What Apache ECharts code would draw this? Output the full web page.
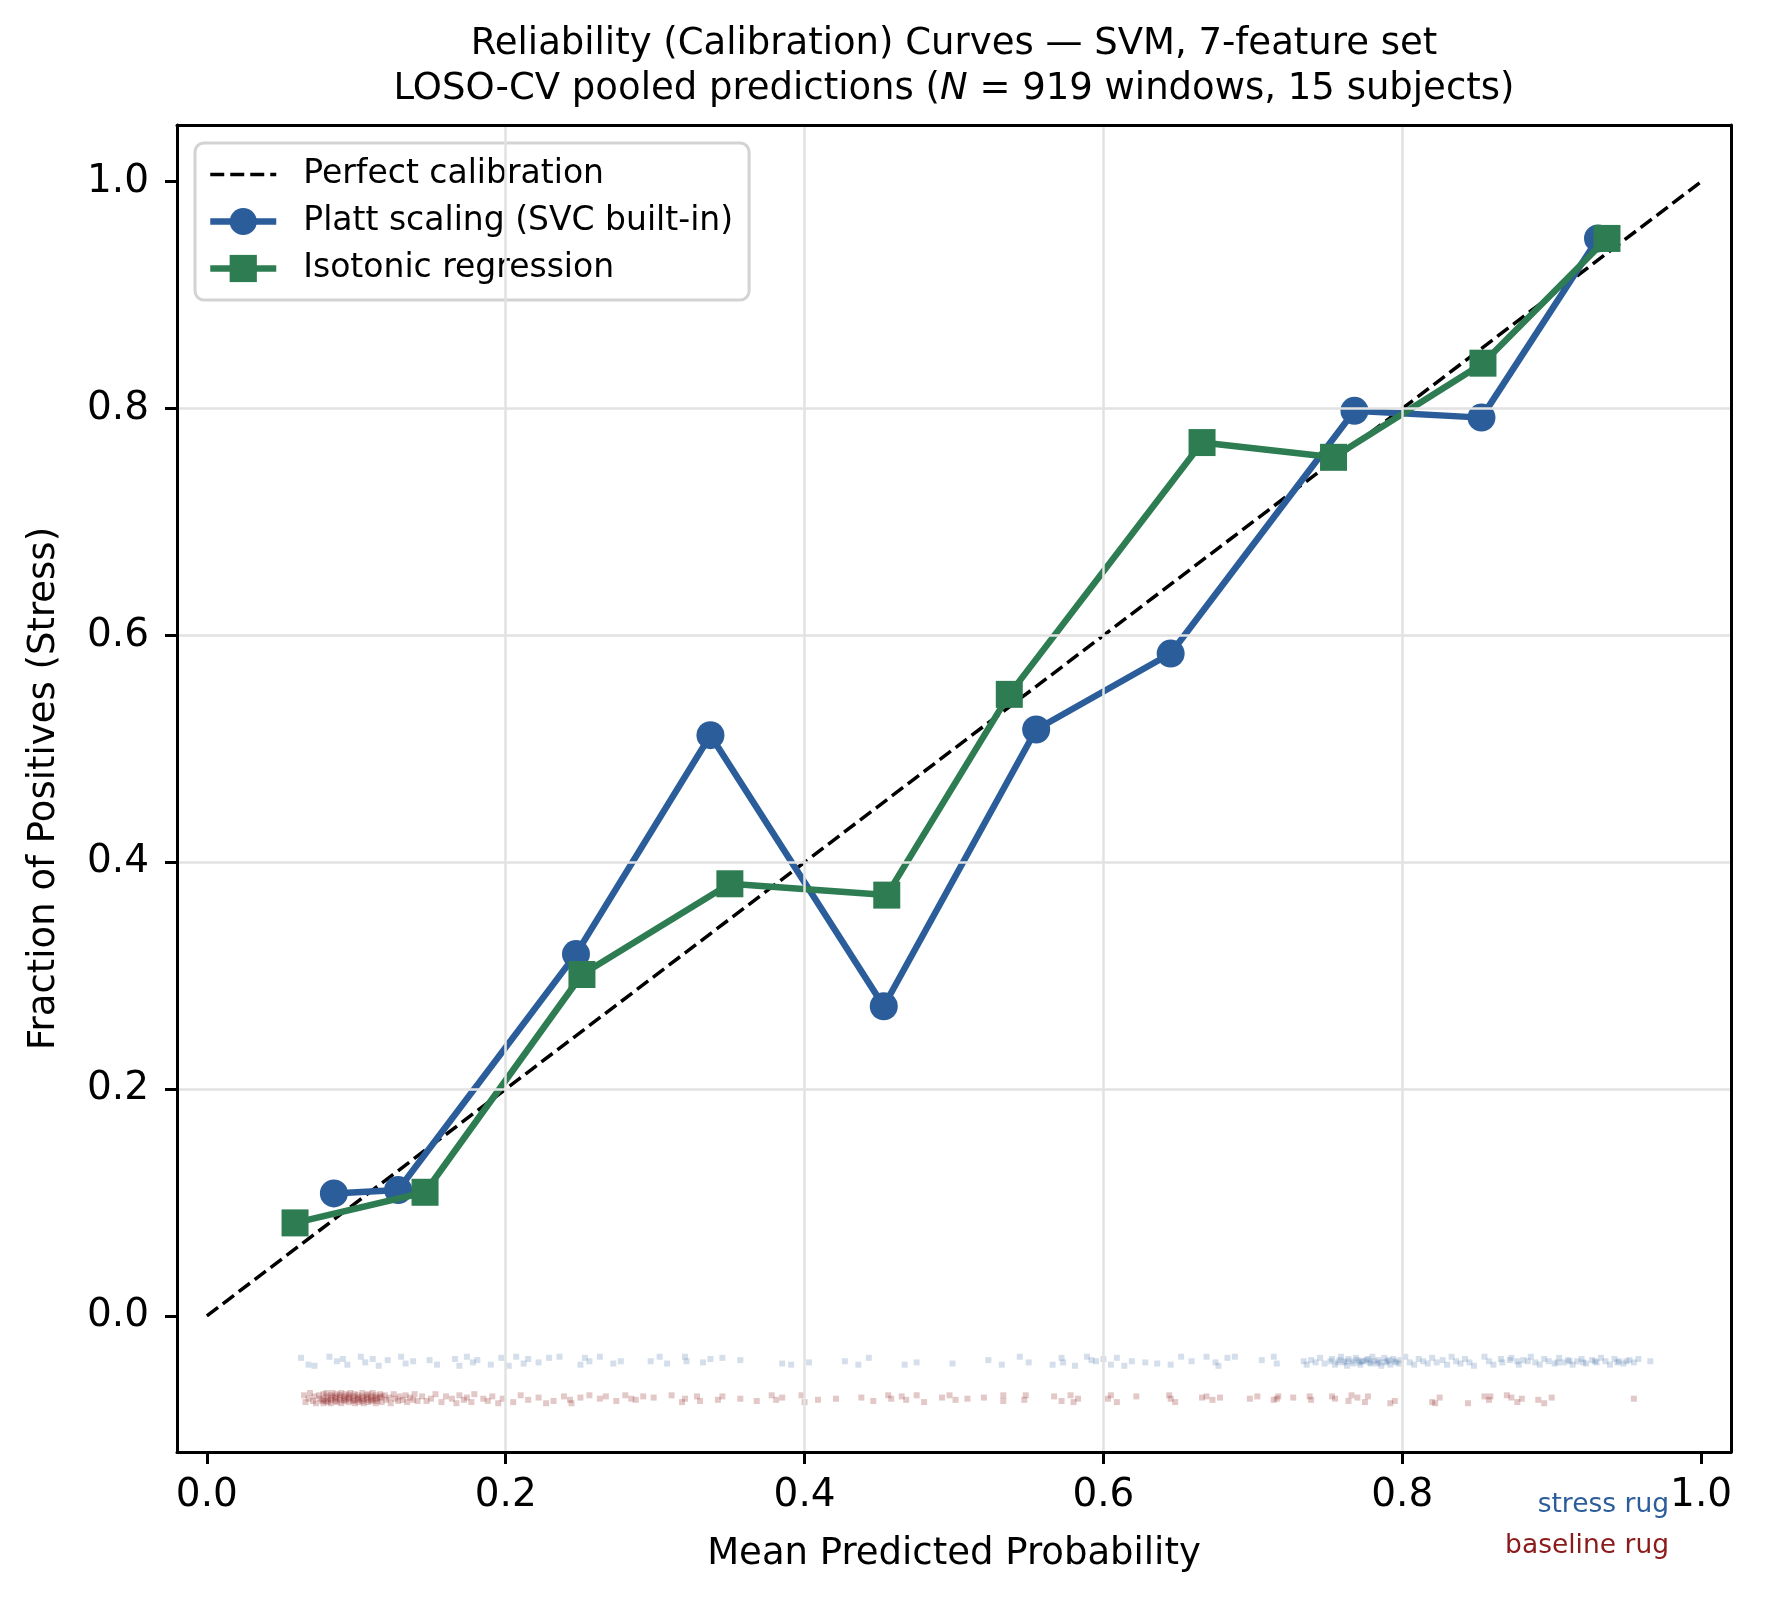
<!DOCTYPE html>
<html>
<head>
<meta charset="utf-8">
<script src="https://cdn.jsdelivr.net/npm/echarts@6/dist/echarts.min.js"></script>
<style>
html,body{margin:0;padding:0;background:#fff;}
#chart{width:1765px;height:1605px;}
</style>
</head>
<body>
<div id="chart"></div>
<script>
// ---------- data ----------
const tickValues = [0.0, 0.2, 0.4, 0.6, 0.8, 1.0];
const diagonal = [[0, 0], [1, 1]];
const plattCurve = [[0.085,0.108],[0.128,0.111],[0.247,0.319],[0.337,0.512],[0.453,0.273],[0.555,0.517],[0.645,0.584],[0.768,0.798],[0.853,0.792],[0.931,0.950]];
const isoCurve = [[0.059,0.082],[0.146,0.109],[0.251,0.301],[0.350,0.381],[0.455,0.371],[0.537,0.548],[0.666,0.770],[0.754,0.757],[0.854,0.840],[0.937,0.950]];

const stressRug = [
[0.063,-0.037],[0.068,-0.043],[0.072,-0.044],[0.082,-0.036],[0.087,-0.040],[0.091,-0.038],[0.094,-0.043],[0.103,-0.036],[0.106,-0.041],[0.111,-0.038],
[0.115,-0.044],[0.121,-0.039],[0.130,-0.036],[0.133,-0.042],[0.138,-0.040],[0.149,-0.039],[0.154,-0.043],[0.166,-0.038],[0.169,-0.044],[0.174,-0.036],
[0.178,-0.041],[0.181,-0.039],[0.190,-0.043],[0.197,-0.037],[0.202,-0.044],[0.207,-0.036],[0.212,-0.042],[0.215,-0.038],[0.222,-0.041],[0.229,-0.037],
[0.236,-0.036],[0.250,-0.043],[0.253,-0.037],[0.256,-0.040],[0.263,-0.036],[0.272,-0.042],[0.277,-0.040],[0.297,-0.040],[0.303,-0.036],[0.308,-0.042],
[0.320,-0.036],[0.321,-0.040],[0.332,-0.041],[0.337,-0.038],[0.345,-0.037],[0.357,-0.039],[0.385,-0.042],[0.391,-0.043],[0.403,-0.041],[0.427,-0.040],
[0.436,-0.043],[0.443,-0.037],[0.467,-0.043],[0.475,-0.041],[0.499,-0.042],[0.523,-0.039],[0.532,-0.043],[0.544,-0.036],[0.550,-0.041],[0.566,-0.043],
[0.572,-0.037],[0.573,-0.041],[0.581,-0.044],[0.589,-0.036],[0.592,-0.039],[0.595,-0.040],[0.600,-0.038],[0.605,-0.043],[0.609,-0.037],[0.614,-0.044],
[0.619,-0.040],[0.628,-0.041],[0.636,-0.042],[0.645,-0.043],[0.652,-0.036],[0.659,-0.040],[0.669,-0.036],[0.675,-0.041],[0.677,-0.044],[0.683,-0.037],
[0.688,-0.036],[0.706,-0.039],[0.714,-0.036],[0.716,-0.042],[0.734,-0.040],[0.736,-0.043],[0.739,-0.039],[0.742,-0.041],[0.745,-0.037],[0.748,-0.042],
[0.752,-0.040],[0.753,-0.038],[0.755,-0.043],[0.757,-0.041],[0.758,-0.039],[0.759,-0.036],[0.761,-0.041],[0.762,-0.040],[0.763,-0.044],[0.764,-0.038],
[0.766,-0.040],[0.767,-0.042],[0.769,-0.037],[0.770,-0.039],[0.771,-0.041],[0.772,-0.043],[0.773,-0.040],[0.774,-0.040],[0.776,-0.039],[0.777,-0.038],
[0.778,-0.041],[0.779,-0.042],[0.780,-0.036],[0.781,-0.040],[0.783,-0.042],[0.784,-0.039],[0.785,-0.041],[0.786,-0.044],[0.788,-0.037],[0.789,-0.041],
[0.790,-0.040],[0.791,-0.039],[0.792,-0.043],[0.794,-0.038],[0.795,-0.040],[0.796,-0.041],[0.798,-0.042],[0.799,-0.039],[0.802,-0.036],[0.805,-0.041],
[0.808,-0.043],[0.811,-0.038],[0.814,-0.040],[0.817,-0.042],[0.820,-0.037],[0.823,-0.041],[0.827,-0.039],[0.830,-0.043],[0.833,-0.036],[0.836,-0.040],
[0.839,-0.042],[0.842,-0.038],[0.845,-0.041],[0.848,-0.044],[0.855,-0.036],[0.858,-0.040],[0.861,-0.043],[0.866,-0.038],[0.867,-0.041],[0.872,-0.039],
[0.873,-0.037],[0.877,-0.040],[0.878,-0.043],[0.881,-0.039],[0.884,-0.040],[0.886,-0.036],[0.889,-0.041],[0.892,-0.043],[0.895,-0.038],[0.898,-0.040],
[0.902,-0.042],[0.904,-0.041],[0.905,-0.037],[0.908,-0.041],[0.911,-0.039],[0.912,-0.040],[0.914,-0.043],[0.917,-0.040],[0.920,-0.038],[0.921,-0.041],
[0.923,-0.042],[0.927,-0.039],[0.929,-0.040],[0.930,-0.041],[0.933,-0.037],[0.936,-0.040],[0.939,-0.043],[0.942,-0.038],[0.944,-0.041],[0.945,-0.040],
[0.948,-0.042],[0.950,-0.040],[0.952,-0.039],[0.955,-0.041],[0.958,-0.038],[0.966,-0.040]
];

const baselineRug = [
[0.065,-0.070],[0.066,-0.076],[0.068,-0.073],[0.069,-0.068],[0.071,-0.075],[0.072,-0.071],[0.073,-0.077],[0.075,-0.070],[0.076,-0.073],[0.077,-0.075],
[0.078,-0.069],[0.078,-0.074],[0.078,-0.077],[0.080,-0.071],[0.080,-0.075],[0.080,-0.068],[0.081,-0.073],[0.081,-0.076],[0.083,-0.070],[0.083,-0.074],
[0.083,-0.077],[0.084,-0.072],[0.084,-0.068],[0.086,-0.075],[0.086,-0.071],[0.086,-0.073],[0.087,-0.069],[0.087,-0.076],[0.089,-0.072],[0.089,-0.074],
[0.089,-0.070],[0.090,-0.077],[0.090,-0.068],[0.092,-0.073],[0.092,-0.071],[0.092,-0.075],[0.093,-0.069],[0.093,-0.074],[0.095,-0.072],[0.095,-0.076],
[0.095,-0.070],[0.096,-0.073],[0.096,-0.068],[0.098,-0.075],[0.098,-0.071],[0.098,-0.074],[0.099,-0.069],[0.099,-0.077],[0.101,-0.072],[0.101,-0.074],
[0.101,-0.070],[0.102,-0.076],[0.102,-0.073],[0.104,-0.068],[0.104,-0.071],[0.104,-0.075],[0.105,-0.073],[0.105,-0.077],[0.107,-0.070],[0.107,-0.074],
[0.107,-0.072],[0.108,-0.076],[0.108,-0.069],[0.110,-0.073],[0.110,-0.071],[0.110,-0.075],[0.111,-0.068],[0.111,-0.074],[0.113,-0.072],[0.113,-0.077],
[0.113,-0.070],[0.114,-0.075],[0.114,-0.073],[0.116,-0.069],[0.116,-0.072],[0.117,-0.076],[0.117,-0.071],[0.119,-0.070],[0.120,-0.074],[0.122,-0.072],
[0.123,-0.077],[0.125,-0.069],[0.126,-0.073],[0.128,-0.075],[0.129,-0.071],[0.131,-0.074],[0.133,-0.070],[0.134,-0.076],[0.136,-0.072],[0.138,-0.074],
[0.139,-0.069],[0.141,-0.075],[0.144,-0.071],[0.147,-0.075],[0.150,-0.073],[0.153,-0.069],[0.157,-0.076],[0.160,-0.071],[0.164,-0.073],[0.167,-0.077],
[0.169,-0.070],[0.172,-0.074],[0.174,-0.072],[0.177,-0.076],[0.179,-0.069],[0.185,-0.073],[0.188,-0.075],[0.191,-0.071],[0.195,-0.077],[0.198,-0.073],
[0.205,-0.076],[0.210,-0.070],[0.215,-0.074],[0.222,-0.072],[0.227,-0.077],[0.232,-0.075],[0.239,-0.071],[0.243,-0.074],[0.244,-0.077],[0.250,-0.072],
[0.256,-0.070],[0.263,-0.073],[0.267,-0.071],[0.274,-0.075],[0.280,-0.070],[0.284,-0.073],[0.287,-0.074],[0.292,-0.071],[0.299,-0.072],[0.311,-0.070],
[0.318,-0.076],[0.320,-0.073],[0.328,-0.071],[0.330,-0.075],[0.342,-0.074],[0.345,-0.071],[0.357,-0.073],[0.368,-0.075],[0.378,-0.070],[0.381,-0.074],
[0.385,-0.072],[0.398,-0.070],[0.400,-0.076],[0.409,-0.074],[0.421,-0.073],[0.438,-0.072],[0.446,-0.075],[0.456,-0.070],[0.458,-0.073],[0.465,-0.071],
[0.468,-0.074],[0.475,-0.070],[0.480,-0.076],[0.492,-0.072],[0.497,-0.070],[0.501,-0.074],[0.509,-0.073],[0.520,-0.072],[0.533,-0.070],[0.533,-0.075],
[0.547,-0.074],[0.548,-0.070],[0.567,-0.071],[0.572,-0.075],[0.578,-0.070],[0.580,-0.076],[0.583,-0.073],[0.603,-0.073],[0.605,-0.070],[0.609,-0.076],
[0.622,-0.071],[0.644,-0.070],[0.645,-0.073],[0.648,-0.076],[0.666,-0.072],[0.669,-0.071],[0.673,-0.074],[0.678,-0.072],[0.698,-0.073],[0.703,-0.071],
[0.714,-0.074],[0.716,-0.073],[0.717,-0.071],[0.727,-0.072],[0.738,-0.071],[0.739,-0.074],[0.753,-0.071],[0.755,-0.073],[0.764,-0.075],[0.766,-0.070],
[0.770,-0.072],[0.775,-0.076],[0.777,-0.071],[0.792,-0.077],[0.795,-0.075],[0.820,-0.076],[0.822,-0.077],[0.825,-0.072],[0.844,-0.077],[0.855,-0.071],
[0.858,-0.074],[0.859,-0.071],[0.870,-0.070],[0.873,-0.072],[0.877,-0.076],[0.880,-0.073],[0.891,-0.074],[0.895,-0.077],[0.900,-0.072],[0.955,-0.073]
];

// ---------- chart ----------
const FONT = 'DejaVu Sans';
const BLUE = '#2b5d9a';
const GREEN = '#2e7c51';
const RED = '#8b1a1a';
const CURVE_W = 6.5;

const chart = echarts.init(document.getElementById('chart'), null, {renderer: 'canvas'});

const commonX = {
  type: 'value', min: -0.02, max: 1.02, minInterval: 0.2, maxInterval: 0.2
};
const commonY = {
  type: 'value', min: -0.12, max: 1.05, minInterval: 0.2, maxInterval: 0.2
};

const option = {
  animation: false,
  backgroundColor: '#ffffff',
  textStyle: {fontFamily: FONT},
  title: [
    {
      text: 'Reliability (Calibration) Curves — SVM, 7-feature set',
      left: 954, top: 26, textAlign: 'center', padding: 0,
      textStyle: {fontFamily: FONT, fontSize: 37, fontWeight: 'normal', color: '#000'}
    },
    {
      text: '{a|LOSO-CV pooled predictions (}{i|N}{a| = 919 windows, 15 subjects)}',
      left: 954, top: 71, textAlign: 'center', padding: 0,
      textStyle: {
        fontFamily: FONT, fontSize: 37, fontWeight: 'normal', color: '#000',
        rich: {
          a: {fontFamily: FONT, fontSize: 37, color: '#000'},
          i: {fontFamily: FONT, fontSize: 37, color: '#000', fontStyle: 'italic'}
        }
      }
    }
  ],
  grid: {left: 177, top: 125, width: 1554, height: 1327, show: false, outerBoundsMode: 'none', containLabel: false},
  xAxis: [
    Object.assign({}, commonX, {
      position: 'bottom',
      name: 'Mean Predicted Probability', nameLocation: 'middle', nameGap: 84,
      nameTextStyle: {fontFamily: FONT, fontSize: 37, color: '#000'},
      axisLine: {show: true, onZero: false, lineStyle: {color: '#000', width: 3}},
      axisTick: {show: true, length: 12, inside: false, customValues: tickValues, lineStyle: {color: '#000', width: 3}},
      axisLabel: {show: true, customValues: tickValues, margin: 24, fontFamily: FONT, fontSize: 39, color: '#000',
        showMinLabel: true, showMaxLabel: true, formatter: v => Number(v).toFixed(1)},
      splitLine: {show: true, showMinLine: false, showMaxLine: false, lineStyle: {color: '#e2e2e2', width: 2.5}},
      z: 5
    }),
    Object.assign({}, commonX, {
      position: 'top',
      axisLine: {show: true, onZero: false, lineStyle: {color: '#000', width: 3}},
      axisTick: {show: false}, axisLabel: {show: false}, splitLine: {show: false}, z: 5
    })
  ],
  yAxis: [
    Object.assign({}, commonY, {
      position: 'left',
      name: 'Fraction of Positives (Stress)', nameLocation: 'middle', nameGap: 114, nameRotate: 90,
      nameTextStyle: {fontFamily: FONT, fontSize: 37, color: '#000'},
      axisLine: {show: true, onZero: false, lineStyle: {color: '#000', width: 3}},
      axisTick: {show: true, length: 12, inside: false, customValues: tickValues, lineStyle: {color: '#000', width: 3}},
      axisLabel: {show: true, customValues: tickValues, margin: 28, fontFamily: FONT, fontSize: 39, color: '#000',
        formatter: v => Number(v).toFixed(1)},
      splitLine: {show: true, showMinLine: false, showMaxLine: false, lineStyle: {color: '#e2e2e2', width: 2.5}},
      z: 5
    }),
    Object.assign({}, commonY, {
      position: 'right',
      axisLine: {show: true, onZero: false, lineStyle: {color: '#000', width: 3}},
      axisTick: {show: false}, axisLabel: {show: false}, splitLine: {show: false}, z: 5
    })
  ],
  legend: {
    orient: 'vertical', left: 195, top: 143,
    padding: [15, 16, 15, 12],
    itemWidth: 66, itemHeight: 34, itemGap: 14,
    backgroundColor: 'rgba(255,255,255,0.85)',
    borderColor: '#d3d3d3', borderWidth: 3, borderRadius: 9,
    textStyle: {fontFamily: FONT, fontSize: 33, color: '#000', padding: [0, 0, 0, 22]},
    data: [
      {name: 'Perfect calibration', itemStyle: {opacity: 0}, lineStyle: {width: 3.5, type: [14, 6], color: '#000'}},
      {name: 'Platt scaling (SVC built-in)', lineStyle: {width: CURVE_W, color: BLUE}},
      {name: 'Isotonic regression', lineStyle: {width: CURVE_W, color: GREEN}}
    ]
  },
  series: [
    {
      name: 'stress rug', type: 'scatter', data: stressRug,
      symbol: 'rect', symbolSize: 6, silent: true, z: 1,
      itemStyle: {color: BLUE, opacity: 0.2}
    },
    {
      name: 'baseline rug', type: 'scatter', data: baselineRug,
      symbol: 'rect', symbolSize: 6, silent: true, z: 1,
      itemStyle: {color: RED, opacity: 0.24}
    },
    {
      name: 'Perfect calibration', type: 'line', data: diagonal,
      symbol: 'none', z: 2,
      lineStyle: {color: '#000', width: 3.5, type: [14, 6]},
      itemStyle: {color: '#000'}
    },
    {
      name: 'Platt scaling (SVC built-in)', type: 'line', data: plattCurve,
      symbol: 'circle', symbolSize: 28, z: 3,
      lineStyle: {color: BLUE, width: CURVE_W},
      itemStyle: {color: BLUE}
    },
    {
      name: 'Isotonic regression', type: 'line', data: isoCurve,
      symbol: 'rect', symbolSize: 27, z: 4,
      lineStyle: {color: GREEN, width: CURVE_W},
      itemStyle: {color: GREEN}
    }
  ],
  graphic: [
    {type: 'text', x: 1669, y: 1505, silent: true,
      style: {text: 'stress rug', align: 'right', verticalAlign: 'middle', fontFamily: FONT, fontSize: 26.5, fill: BLUE}},
    {type: 'text', x: 1669, y: 1546, silent: true,
      style: {text: 'baseline rug', align: 'right', verticalAlign: 'middle', fontFamily: FONT, fontSize: 26.5, fill: RED}}
  ]
};

chart.setOption(option);
</script>
</body>
</html>
